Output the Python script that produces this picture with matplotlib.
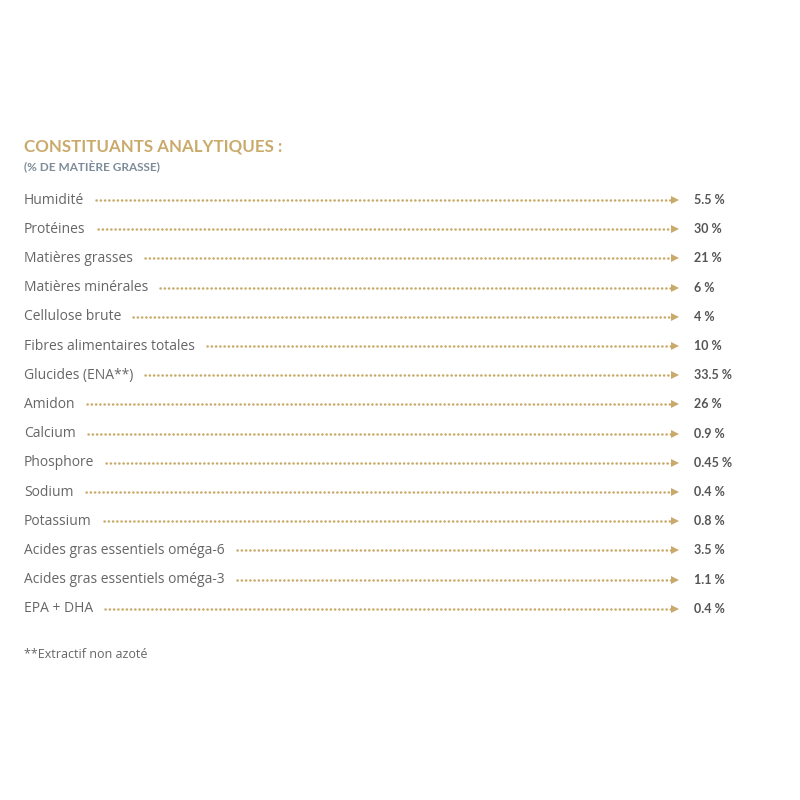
import matplotlib
matplotlib.use("Agg")
import matplotlib.pyplot as plt

title = "CONSTITUANTS ANALYTIQUES :"
subtitle = "(% DE MATIÈRE GRASSE)"
labels = ["Humidité", "Protéines", "Matières grasses", "Matières minérales",
          "Cellulose brute", "Fibres alimentaires totales", "Glucides (ENA**)",
          "Amidon", "Calcium", "Phosphore", "Sodium", "Potassium",
          "Acides gras essentiels oméga-6", "Acides gras essentiels oméga-3",
          "EPA + DHA"]
values = ["5.5", "30", "21", "6", "4", "10", "33.5", "26", "0.9", "0.45",
          "0.4", "0.8", "3.5", "1.1", "0.4"]
footnote = "**Extractif non azoté"

GOLD = "#C9AA6B"
GREY = "#666666"
VGREY = "#555555"
BLUEGREY = "#7d8c98"

plt.rcParams['font.family'] = ['Open Sans', 'DejaVu Sans']
fig = plt.figure(figsize=(8, 8), dpi=100)
ax = fig.add_axes([0, 0, 1, 1])
ax.set_xlim(0, 800)
ax.set_ylim(800, 0)
ax.axis('off')

ax.text(24, 146, title, color=GOLD, fontsize=12.2, fontweight='bold', va='center', ha='left',
        family=['Lato', 'DejaVu Sans'])
ax.text(24, 167, subtitle, color=BLUEGREY, fontsize=8.5, fontweight='bold', va='center', ha='left',
        family=['Lato', 'DejaVu Sans'])

fig.canvas.draw()
renderer = fig.canvas.get_renderer()
y0, dy = 200, 29.2
x_end = 672
for i, (lab, val) in enumerate(zip(labels, values)):
    y = y0 + i * dy
    t = ax.text(24, y, lab, color=GREY, fontsize=10, va='center', ha='left')
    bb = t.get_window_extent(renderer=renderer)
    xs = bb.x1 + 12
    ax.plot([xs, x_end], [y, y], color=GOLD, lw=1.8, linestyle=(0, (0.1, 1.6)),
            dash_capstyle='round')
    ax.plot([x_end + 3], [y], marker='>', color=GOLD, markersize=5.5, markeredgewidth=0)
    ax.text(694, y, f"{val} %", color=VGREY, fontsize=9, fontweight='bold', va='center', ha='left',
            family=['Lato', 'DejaVu Sans'])

ax.text(24, 654, footnote, color=GREY, fontsize=9, va='center', ha='left')

fig.savefig("out.png", dpi=100, facecolor='white')
